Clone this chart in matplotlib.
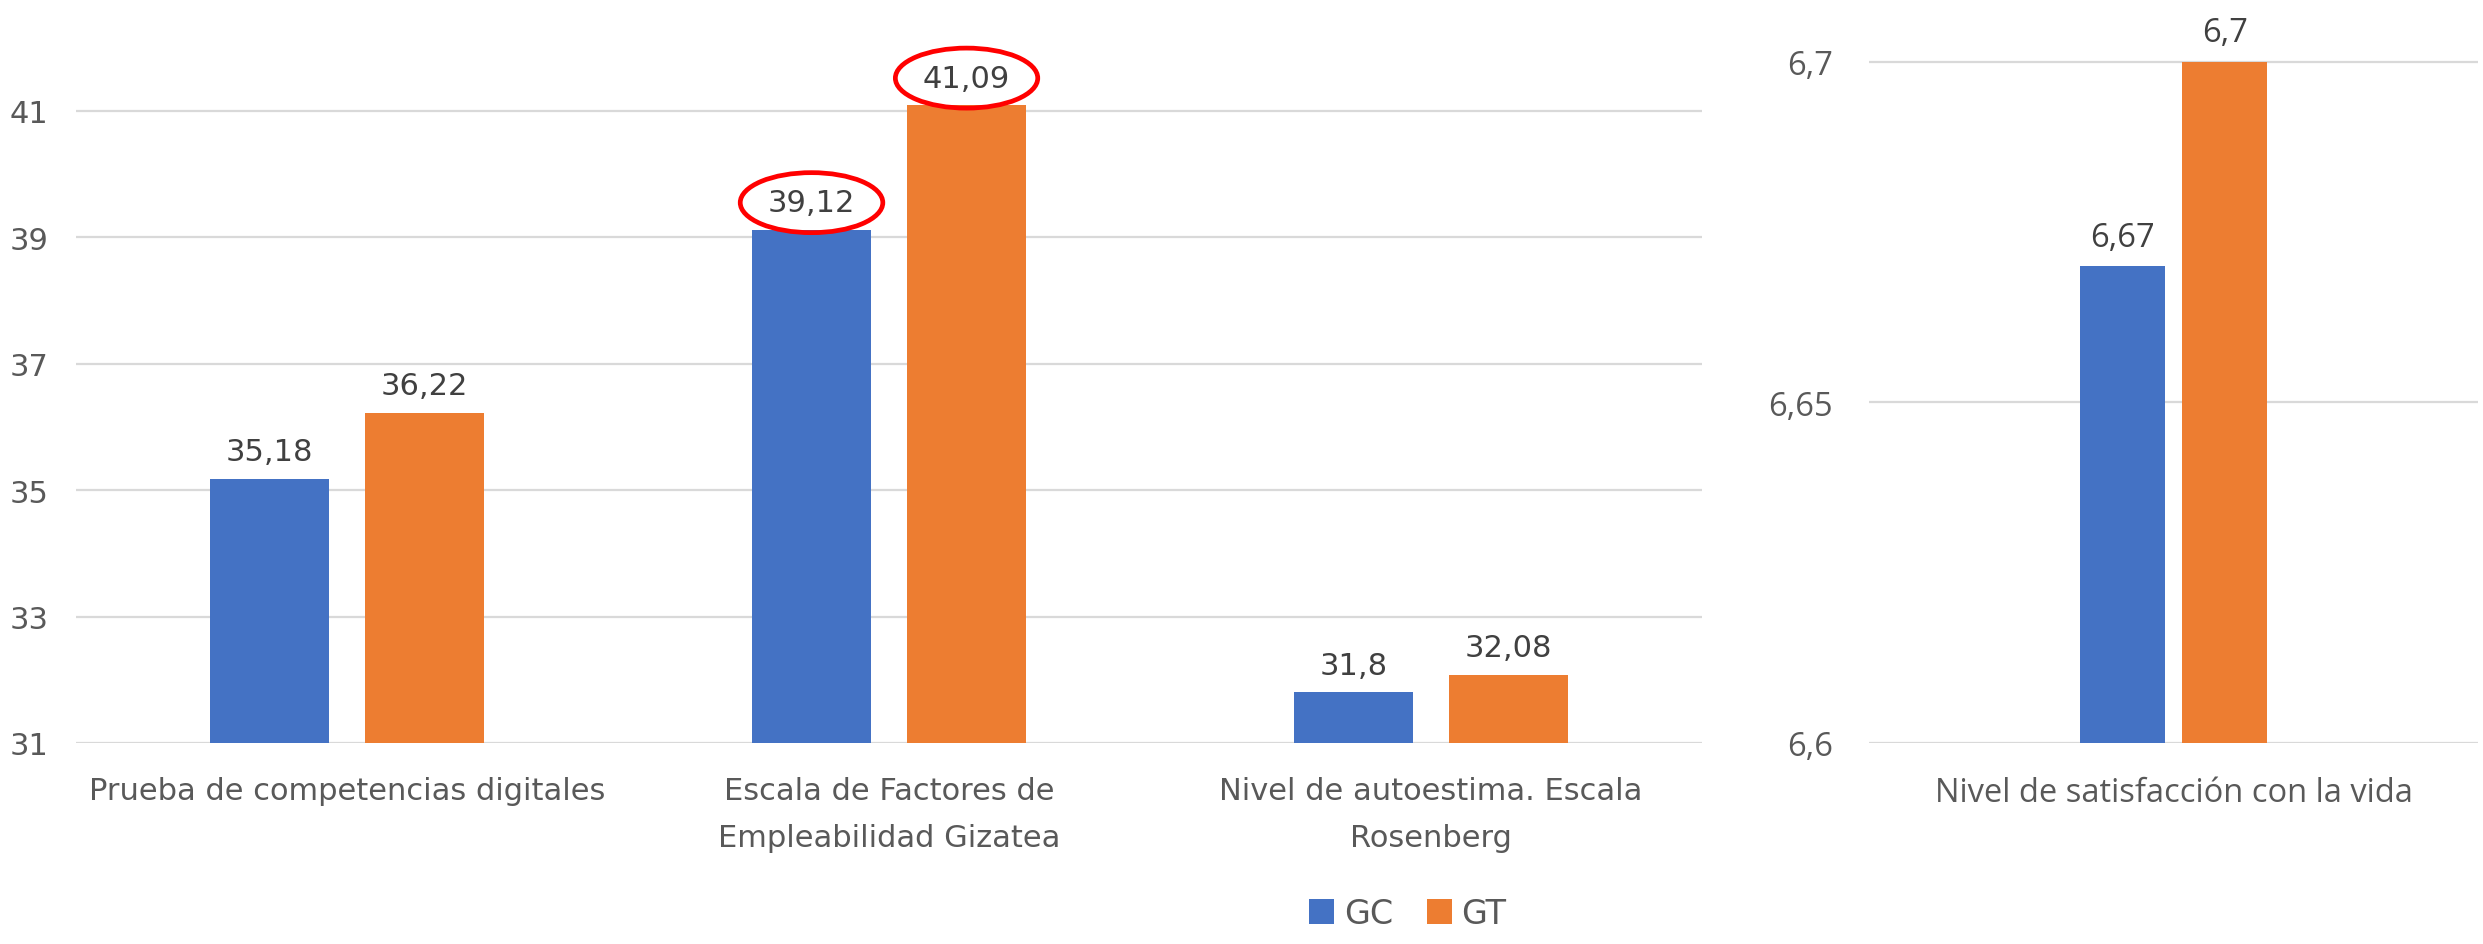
import matplotlib.pyplot as plt
import numpy as np

# datos
categorias = ['Prueba de competencias digitales',
              'Escala de Factores de\nEmpleabilidad Gizatea',
              'Nivel de autoestima. Escala\nRosenberg']
gc = [35.18, 39.12, 31.8]
gt = [36.22, 41.09, 32.08]
marcados_gc = [False, True, False]
marcados_gt = [False, True, False]
yticks_izq = [31, 33, 35, 37, 39, 41]

categoria_der = ['Nivel de satisfacción con la vida']
gc_der = [6.67]
gt_der = [6.7]
yticks_der = [6.6, 6.65, 6.7]

AZUL = '#4472C4'
NARANJA = '#ED7D31'
GRIS = '#D9D9D9'
TEXTO = '#404040'
EJE = '#595959'
fuente_izq = ['DejaVu Sans']
fuente_der = ['Open Sans', 'DejaVu Sans']


def coma(v):
    return f'{v:g}'.replace('.', ',')


fig = plt.figure(figsize=(24.83, 9.45), dpi=100)
ax1 = fig.add_axes([0.0306, 0.2127, 0.6549, 0.7767])
ax2 = fig.add_axes([0.7527, 0.2127, 0.2453, 0.782])


def estilo(ax, fam, size, pad):
    for s in ax.spines.values():
        s.set_visible(False)
    ax.grid(axis='y', color=GRIS, linewidth=1.6)
    ax.set_axisbelow(True)
    ax.tick_params(length=0)
    ax.tick_params(axis='y', pad=pad)
    for lab in ax.get_yticklabels() + ax.get_xticklabels():
        lab.set_family(fam)
        lab.set_fontsize(size)
        lab.set_color(EJE)


def etiquetas(ax, xs, vals, fam, size, marcas=None):
    for i, (x, v) in enumerate(zip(xs, vals)):
        kw = {}
        if marcas is not None and marcas[i]:
            kw['bbox'] = dict(boxstyle='ellipse,pad=0.22', fc='none', ec='#FF0000', lw=3.4)
        ax.annotate(coma(v), (x, v), xytext=(0, 9), textcoords='offset points',
                    ha='center', va='bottom', family=fam, fontsize=size,
                    color=TEXTO, annotation_clip=False, **kw)


# panel izquierdo
x = np.arange(len(categorias))
w = 0.221
d = 0.143
b1 = ax1.bar(x - d, np.array(gc) - 31, w, bottom=31, color=AZUL, label='GC')
b2 = ax1.bar(x + d, np.array(gt) - 31, w, bottom=31, color=NARANJA, label='GT')
ax1.set_xlim(-0.5, 2.5)
ax1.set_ylim(31, 42.61)
ax1.set_yticks(yticks_izq)
ax1.set_yticklabels([coma(v) for v in yticks_izq])
ax1.set_xticks(x)
ax1.set_xticklabels(categorias, linespacing=1.75)
ax1.tick_params(axis='x', pad=24)
estilo(ax1, fuente_izq, 22, 20)
etiquetas(ax1, x - d, gc, fuente_izq, 22, marcados_gc)
etiquetas(ax1, x + d, gt, fuente_izq, 22, marcados_gt)

# panel derecho
x2 = np.arange(len(categoria_der))
w2 = 0.14
d2 = 0.084
ax2.bar(x2 - d2, np.array(gc_der) - 6.6, w2, bottom=6.6, color=AZUL)
ax2.bar(x2 + d2, np.array(gt_der) - 6.6, w2, bottom=6.6, color=NARANJA)
ax2.set_xlim(-0.5, 0.5)
ax2.set_ylim(6.6, 6.7085)
ax2.set_yticks(yticks_der)
ax2.set_yticklabels([coma(v) for v in yticks_der])
ax2.set_xticks(x2)
ax2.set_xticklabels(categoria_der)
ax2.tick_params(axis='x', pad=24)
estilo(ax2, fuente_der, 23.5, 26)
etiquetas(ax2, x2 - d2, gc_der, fuente_der, 23.5)
etiquetas(ax2, x2 + d2, gt_der, fuente_der, 23.5)

fig.legend(handles=[b1, b2], labels=['GC', 'GT'], loc='center',
           bbox_to_anchor=(0.567, 0.032), ncol=2, frameon=False,
           prop={'family': fuente_izq, 'size': 24}, labelcolor=EJE,
           handlelength=0.75, handleheight=0.75, handletextpad=0.3,
           columnspacing=1.0)

fig.savefig('out.png', dpi=100)
